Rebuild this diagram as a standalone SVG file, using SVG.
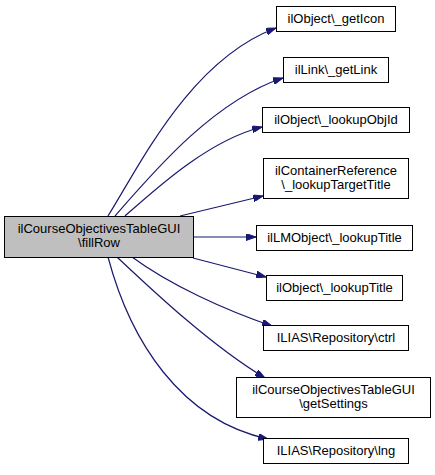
<svg xmlns="http://www.w3.org/2000/svg" width="435" height="475" viewBox="0 0 435 475">
<defs>
<style>
.n rect{fill:#ffffff;stroke:#000000;stroke-width:1}
.main rect{fill:#bfbfbf;stroke:#000000;stroke-width:1}
text{font-family:"Liberation Sans",Arial,sans-serif;font-size:13px;fill:#000000;text-anchor:middle}
.e path{fill:none;stroke:#191970;stroke-width:1.2;marker-end:url(#ah)}
</style>
<marker id="ah" viewBox="0 0 10 7" refX="10" refY="3.5" markerWidth="10" markerHeight="7" markerUnits="userSpaceOnUse" orient="auto">
<path d="M0,0 L10,3.5 L0,7 Z" fill="#191970" stroke="#191970"/>
</marker>
</defs>
<rect width="435" height="475" fill="#ffffff"/>
<g id="edges" class="e">
<path d="M108,216 C140,165 190,60 276,28"/>
<path d="M115,216 C155,170 215,100 283,78"/>
<path d="M125,216 C160,185 210,140 262,127"/>
<path d="M180,216 L263,196"/>
<path d="M193,237 L256,237"/>
<path d="M193,258 L266,277"/>
<path d="M132,257 C170,285 225,310 272,326"/>
<path d="M117,257 C150,288 210,345 265,378"/>
<path d="M108,257 C130,340 180,420 268,439"/>
</g>
<g id="node_main" class="main">
<rect x="4.5" y="216.5" width="189" height="41"/>
<text x="99" y="233">ilCourseObjectivesTableGUI</text>
<text x="99" y="247">\fillRow</text>
</g>
<g id="node_getIcon" class="n">
<rect x="276.5" y="6.5" width="119" height="25"/>
<text x="336" y="23">ilObject\_getIcon</text>
</g>
<g id="node_getLink" class="n">
<rect x="283.5" y="57.5" width="105" height="25"/>
<text x="336" y="74">ilLink\_getLink</text>
</g>
<g id="node_lookupObjId" class="n">
<rect x="262.5" y="107.5" width="147" height="25"/>
<text x="336" y="124">ilObject\_lookupObjId</text>
</g>
<g id="node_containerRef" class="n">
<rect x="263.5" y="158.5" width="145" height="40"/>
<text x="336" y="175">ilContainerReference</text>
<text x="336" y="189">\_lookupTargetTitle</text>
</g>
<g id="node_lmLookupTitle" class="n">
<rect x="256.5" y="225.5" width="156" height="25"/>
<text x="334.5" y="242">ilLMObject\_lookupTitle</text>
</g>
<g id="node_objLookupTitle" class="n">
<rect x="266.5" y="275.5" width="136" height="25"/>
<text x="334.5" y="292">ilObject\_lookupTitle</text>
</g>
<g id="node_ctrl" class="n">
<rect x="263.5" y="325.5" width="145" height="25"/>
<text x="336" y="342">ILIAS\Repository\ctrl</text>
</g>
<g id="node_getSettings" class="n">
<rect x="236.5" y="377.5" width="194" height="40"/>
<text x="333.5" y="394">ilCourseObjectivesTableGUI</text>
<text x="333.5" y="408">\getSettings</text>
</g>
<g id="node_lng" class="n">
<rect x="263.5" y="438.5" width="145" height="25"/>
<text x="336" y="455">ILIAS\Repository\lng</text>
</g>
</svg>
